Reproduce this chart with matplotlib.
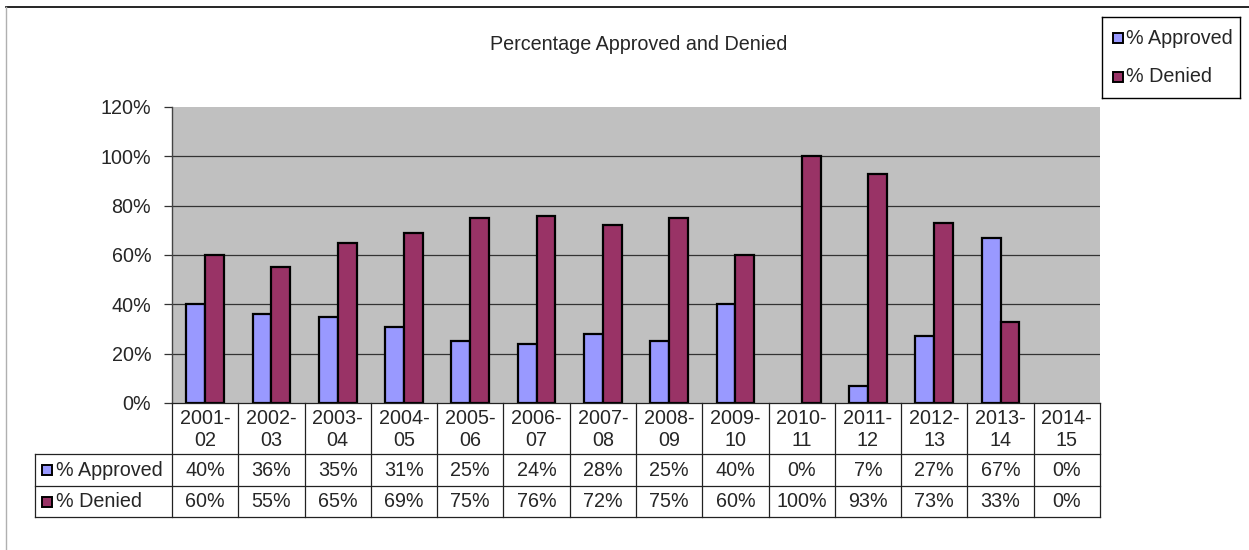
import matplotlib
matplotlib.use("Agg")
import matplotlib.pyplot as plt
from matplotlib.patches import Rectangle
import numpy as np

categories = ["2001-\n02", "2002-\n03", "2003-\n04", "2004-\n05", "2005-\n06", "2006-\n07",
              "2007-\n08", "2008-\n09", "2009-\n10", "2010-\n11", "2011-\n12", "2012-\n13",
              "2013-\n14", "2014-\n15"]
approved = [40, 36, 35, 31, 25, 24, 28, 25, 40, 0, 7, 27, 67, 0]
denied = [60, 55, 65, 69, 75, 76, 72, 75, 60, 100, 93, 73, 33, 0]
series_names = ["% Approved", "% Denied"]
yticks = [0, 20, 40, 60, 80, 100, 120]
title = "Percentage Approved and Denied"

C_APP = "#9999FF"
C_DEN = "#993366"
FONT = "Liberation Sans"
FS = 14.2
TC = "#262626"

plt.rcParams["font.family"] = [FONT, "DejaVu Sans"]

W, H = 1249, 550
fig = plt.figure(figsize=(W / 100, H / 100), dpi=100)

def px_rect(x0, y0, x1, y1):
    return [x0 / W, 1 - y1 / H, (x1 - x0) / W, (y1 - y0) / H]

# outer chart border lines
fig.add_artist(plt.Line2D([6 / W, 1], [1 - 7 / H, 1 - 7 / H], color="black", lw=1.2))
fig.add_artist(plt.Line2D([6 / W, 6 / W], [0, 1 - 7 / H], color="#b0b0b0", lw=1.0))

# main plot area
PX0, PX1, PY0, PY1 = 172, 1100, 107, 403
ax = fig.add_axes(px_rect(PX0, PY0, PX1, PY1))
ax.set_facecolor("#C0C0C0")
n = len(categories)
x = np.arange(n)
bw = 0.285
ax.set_xlim(-0.5, n - 0.5)
ax.set_ylim(0, 120)
for yv in yticks[1:-1]:
    ax.axhline(yv, color="#333333", lw=0.9, zorder=1)
ax.bar(x - bw / 2, approved, bw, color=C_APP, edgecolor="black",
       linewidth=[1.6 if v > 0 else 0 for v in approved], zorder=3)
ax.bar(x + bw / 2, denied, bw, color=C_DEN, edgecolor="black",
       linewidth=[1.6 if v > 0 else 0 for v in denied], zorder=3)
ax.set_yticks(yticks)
ax.set_yticklabels([f"{v}%" for v in yticks], fontsize=FS, color=TC)
ax.tick_params(axis="y", direction="out", length=6, width=0.9, color="#333333", pad=9)
ax.set_xticks([])
for s in ["top", "right", "bottom"]:
    ax.spines[s].set_visible(False)
ax.spines["left"].set_color("#444444")
ax.spines["left"].set_linewidth(1.0)

fig.text(639 / W, 1 - 45 / H, title, ha="center", va="center", fontsize=FS, color=TC)

# data table
TX0 = 35
TY_HEAD, TY_R1, TY_R2, TY_END = 403, 454, 486, 517
cw = (PX1 - PX0) / n
left_units = (PX0 - TX0) / cw
tax = fig.add_axes(px_rect(TX0, TY_HEAD, PX1 + 1, TY_END))
tax.set_xlim(-0.5 - left_units, n - 0.5 + 1 / cw)
tax.set_ylim(TY_END, TY_HEAD)
tax.axis("off")
lc = "#222222"
lw = 0.9
xl = -0.5 - left_units
xr = n - 0.5
tax.plot([-0.5, xr], [TY_HEAD, TY_HEAD], color=lc, lw=lw, clip_on=False)
for yy in [TY_R1, TY_R2, TY_END]:
    tax.plot([xl, xr], [yy, yy], color=lc, lw=lw, clip_on=False)
for i in range(n + 1):
    tax.plot([i - 0.5, i - 0.5], [TY_HEAD, TY_END], color=lc, lw=lw, clip_on=False)
tax.plot([xl, xl], [TY_R1, TY_END], color=lc, lw=lw, clip_on=False)
for i, c in enumerate(categories):
    tax.text(i, (TY_HEAD + TY_R1) / 2 + 1, c, ha="center", va="center", fontsize=FS,
             color=TC, linespacing=1.25)
rows = [(approved, C_APP, (TY_R1 + TY_R2) / 2), (denied, C_DEN, (TY_R2 + TY_END) / 2)]
for (vals, col, yc), name in zip(rows, series_names):
    mk_x = xl + 7 / cw
    tax.add_patch(Rectangle((mk_x, yc - 5), 10 / cw, 10, facecolor=col, edgecolor="black",
                            lw=1.4, clip_on=False))
    tax.text(xl + 21 / cw, yc, name, ha="left", va="center", fontsize=FS, color=TC)
    for i, v in enumerate(vals):
        tax.text(i, yc, f"{v}%", ha="center", va="center", fontsize=FS, color=TC)

# legend box
lax = fig.add_axes(px_rect(1102, 17, 1240, 98))
lax.set_xlim(1102, 1240)
lax.set_ylim(98, 17)
lax.set_xticks([])
lax.set_yticks([])
for s in lax.spines.values():
    s.set_color("black")
    s.set_linewidth(1.0)
for name, col, yc in [(series_names[0], C_APP, 38), (series_names[1], C_DEN, 77)]:
    lax.add_patch(Rectangle((1113, yc - 5), 10, 10, facecolor=col, edgecolor="black", lw=1.4))
    lax.text(1126, yc, name, ha="left", va="center", fontsize=FS, color=TC)

fig.savefig("out.png", dpi=100)
